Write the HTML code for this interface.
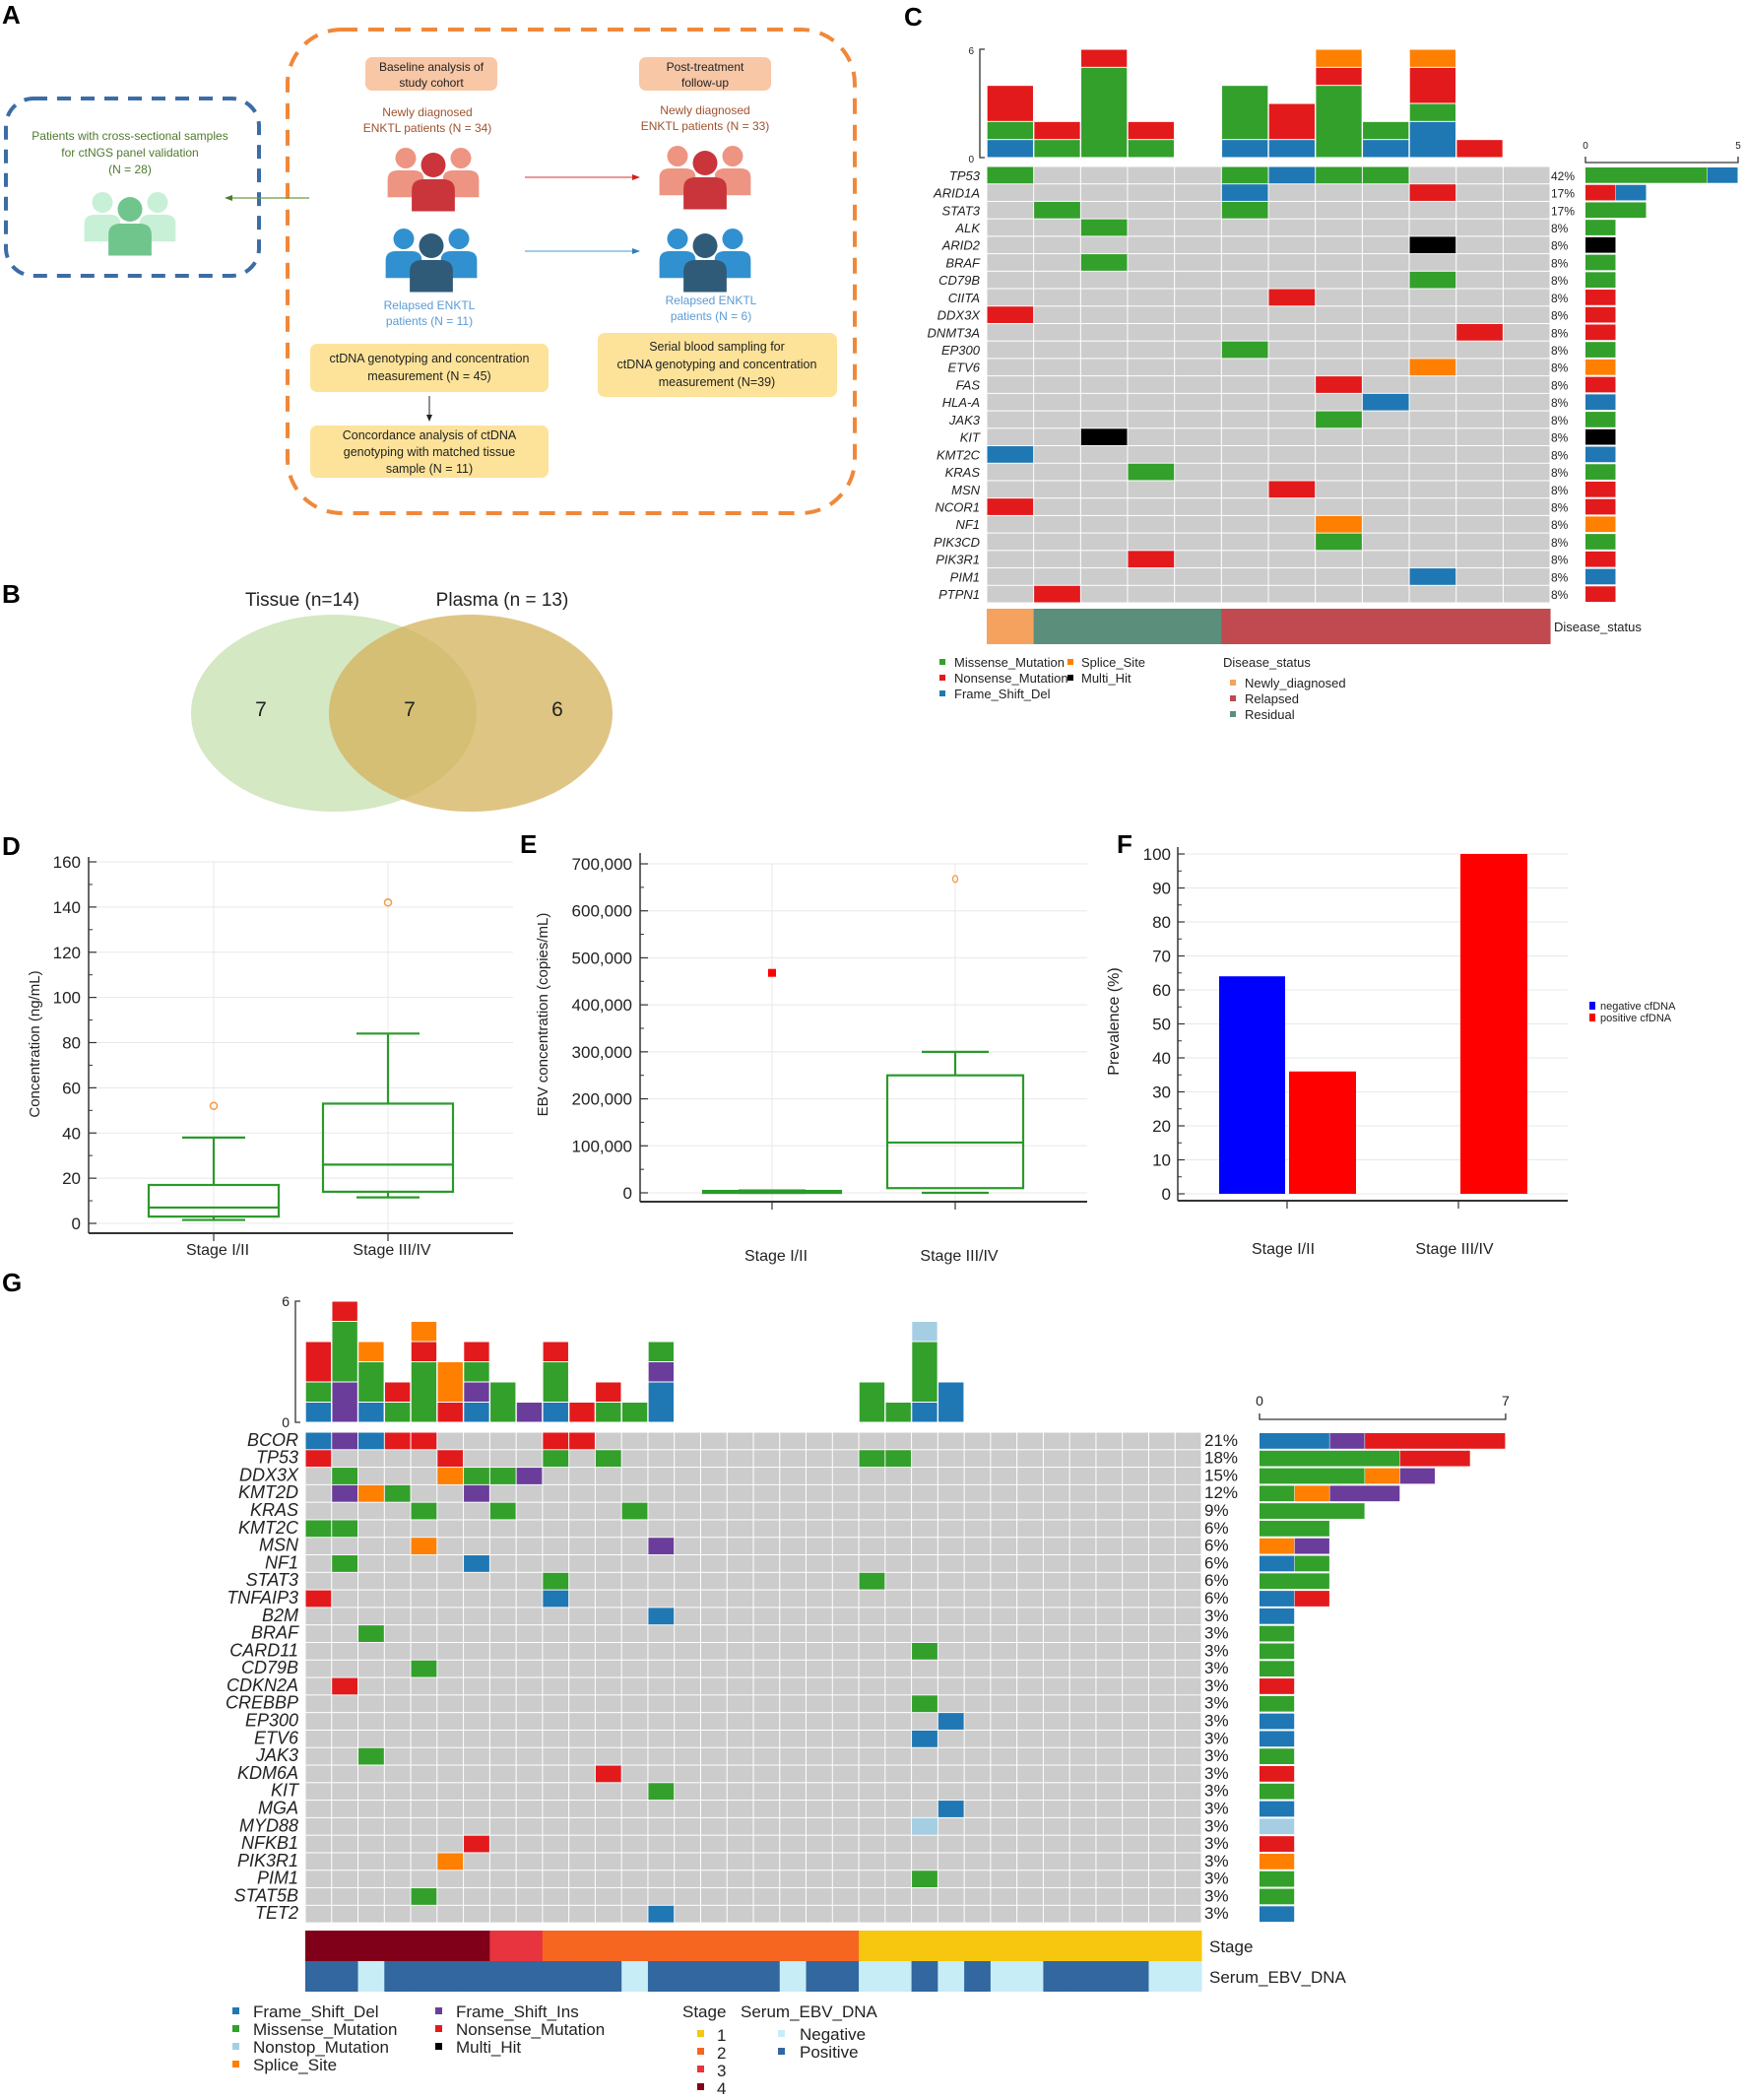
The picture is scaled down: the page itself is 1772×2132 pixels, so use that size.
<!DOCTYPE html>
<html><head><meta charset="utf-8">
<style>
html,body{margin:0;padding:0;background:#fff;}
svg{display:block;font-family:"Liberation Sans",Arial,sans-serif;}
</style></head>
<body>
<svg id="fig" width="1772" height="2132" viewBox="0 0 1772 2132" xmlns="http://www.w3.org/2000/svg">
</svg>
<script>
// ---------- DATA ----------
// Panel D
const dCats=['Stage I/II','Stage III/IV'];
const dQ1=[3,14];
const dMed=[7,26];
const dQ3=[17,53];
const dLo=[1.5,11.5];
const dHi=[38,84];
const dOut=[52,142];
const dTicks=[0,20,40,60,80,100,120,140,160];
// Panel E
const eCats=['Stage I/II','Stage III/IV'];
const eQ1=[0,10000];
const eMed=[2000,107000];
const eQ3=[4000,250000];
const eLo=[0,0];
const eHi=[5000,300000];
const eOut=[null,668000];
const eFar=[468000,null];
const eTicks=[0,100000,200000,300000,400000,500000,600000,700000];
const eTickLabels=['0','100,000','200,000','300,000','400,000','500,000','600,000','700,000'];
// Panel F
const fCats=['Stage I/II','Stage III/IV'];
const fNeg=[64,0];
const fPos=[36,100];
const fTicks=[0,10,20,30,40,50,60,70,80,90,100];
// Panel C oncoplot
const cGenes=['TP53','ARID1A','STAT3','ALK','ARID2','BRAF','CD79B','CIITA','DDX3X','DNMT3A','EP300','ETV6','FAS','HLA-A','JAK3','KIT','KMT2C','KRAS','MSN','NCOR1','NF1','PIK3CD','PIK3R1','PIM1','PTPN1'];
const cHits=['0M 5M 6F 7M 8M','5F 9N','1M 5M','2M','9X','2M','9M','6N','0N','10N','5M','9S','7N','8F','7M','2X','0F','3M','6N','0N','7S','7M','3N','9F','1N'];
const cPct=['42%','17%','17%','8%','8%','8%','8%','8%','8%','8%','8%','8%','8%','8%','8%','8%','8%','8%','8%','8%','8%','8%','8%','8%','8%'];
const cTop=['F1 M1 N2','M1 N1','M5 N1','M1 N1','','F1 M3','F1 N2','M4 N1 S1','F1 M1','F2 M1 N2 S1','N1',''];
const cStatus=['Newly_diagnosed','Residual','Residual','Residual','Residual','Relapsed','Relapsed','Relapsed','Relapsed','Relapsed','Relapsed','Relapsed'];
// Panel G oncoplot
const gGenes=['BCOR','TP53','DDX3X','KMT2D','KRAS','KMT2C','MSN','NF1','STAT3','TNFAIP3','B2M','BRAF','CARD11','CD79B','CDKN2A','CREBBP','EP300','ETV6','JAK3','KDM6A','KIT','MGA','MYD88','NFKB1','PIK3R1','PIM1','STAT5B','TET2'];
const gHits=['0F 1I 2F 3N 4N 9N 10N','0N 5N 9M 11M 21M 22M','1M 5S 6M 7M 8I','1I 2S 3M 6I','4M 7M 12M','0M 1M','4S 13I','1M 6F','9M 21M','0N 9F','13F','2M','23M','4M','1N','23M','24F','23F','2M','11N','13M','24F','23O','6N','5S','23M','4M','13F'];
const gStage=[4,4,4,4,4,4,4,3,3,2,2,2,2,2,2,2,2,2,2,2,2,1,1,1,1,1,1,1,1,1,1,1,1,1];
const gEbv=[1,1,0,1,1,1,1,1,1,1,1,1,0,1,1,1,1,1,0,1,1,0,0,1,0,1,0,0,1,1,1,1,0,0];
const gN=34;

// ---------- HELPERS ----------
const NS='http://www.w3.org/2000/svg';
const svg=document.getElementById('fig');
function mk(tag,attrs,parent){const e=document.createElementNS(NS,tag);for(const k in attrs)e.setAttribute(k,attrs[k]);(parent||svg).appendChild(e);return e;}
function txt(s,x,y,size,anchor,extra,parent){const e=mk('text',Object.assign({x:x,y:y,'font-size':size,'text-anchor':anchor||'start',fill:'#222'},extra||{}),parent);e.textContent=s;return e;}
const COL={F:'#1f78b4',I:'#6a3d9a',M:'#33a02c',N:'#e31a1c',S:'#ff7f00',O:'#a6cee3',X:'#000000'};
const TNAME={F:'frame-shift-del',I:'frame-shift-ins',M:'missense',N:'nonsense',S:'splice-site',O:'nonstop',X:'multi-hit'};
function parseHits(s){return s.trim()?s.trim().split(/\s+/).map(t=>[parseInt(t),t.slice(-1)]):[];}
function parseTop(s){return s.trim()?s.trim().split(/\s+/).map(t=>[t[0],parseInt(t.slice(1))]):[];}

// ---------- PANEL LETTERS ----------
[['A',2,24],['B',2,612],['C',918,26],['D',2,868],['E',528,866],['F',1134,866],['G',2,1311]].forEach(p=>{
  const t=txt(p[0],p[1],p[2],26,'start',{'font-weight':'bold',fill:'#000'});
  
  
});

// ---------- PANEL A ----------
const gA=mk('g',{});


let e;
e=mk('rect',{x:292,y:30,width:576,height:491,rx:55,fill:'none',stroke:'#f0883a','stroke-width':4,'stroke-dasharray':'16 11'},gA);

e=mk('rect',{x:6,y:100,width:257,height:180,rx:28,fill:'none',stroke:'#3c6ca6','stroke-width':4,'stroke-dasharray':'14 10'},gA);

function person(x,y,r,col,parent){
  mk('circle',{cx:x,cy:y+r,r:r,fill:col},parent);
  const w=r*1.75,top=y+2*r+2,h=r*2.6;
  mk('path',{d:`M${x-w} ${top+h} L${x-w} ${top+r*0.9} Q${x-w} ${top} ${x-w+r} ${top} L${x+w-r} ${top} Q${x+w} ${top} ${x+w} ${top+r*0.9} L${x+w} ${top+h} Z`,fill:col},parent);
}
function group(cx,ty,back,front,name){
  const g=mk('g',{},gA);
  
  
  person(cx-28,ty,10.5,back,g);person(cx+28,ty,10.5,back,g);
  mk('circle',{cx:cx,cy:ty+18,r:14,fill:'#fff'},g);
  person(cx,ty+5,12.5,front,g);
}
group(440,150,'#ee9482','#c9353a','newly-diagnosed-icon');
group(716,148,'#ee9482','#c9353a','followup-newly-icon');
group(438,232,'#3190d0','#2f5b79','relapsed-icon');
group(716,232,'#3190d0','#2f5b79','followup-relapsed-icon');
group(132,195,'#c8f0d6','#70c58d','validation-icon');
function box(x,y,w,h,fill,lines,cx,y0,dy,size,color,name){
  const b=mk('rect',{x:x,y:y,width:w,height:h,rx:7,fill:fill},gA);
  
  lines.forEach((l,i)=>{txt(l,cx,y0+i*dy,size,'middle',{fill:color},gA);});
}
box(371,58,134,34,'#f8c7a6',['Baseline analysis of','study cohort'],438,72,16,12,'#222','baseline-header');
box(649,58,134,34,'#f8c7a6',['Post-treatment','follow-up'],716,72,16,12,'#222','followup-header');
box(315,349,242,49,'#fde399',['ctDNA genotyping and concentration','measurement (N = 45)'],436,368,18,12.5,'#222','genotyping-box');
box(315,432,242,53,'#fde399',['Concordance analysis of ctDNA','genotyping with matched tissue','sample (N = 11)'],436,446,17,12.5,'#222','concordance-box');
box(607,338,243,65,'#fde399',['Serial blood sampling for','ctDNA genotyping and concentration','measurement  (N=39)'],728,356,18,12.5,'#222','serial-sampling-box');
[['Newly diagnosed',434,118],['ENKTL patients (N = 34)',434,134],['Newly diagnosed',716,116],['ENKTL patients (N = 33)',716,132]].forEach(t=>txt(t[0],t[1],t[2],12,'middle',{fill:'#a0522d'},gA));
[['Relapsed ENKTL',436,314],['patients (N = 11)',436,330],['Relapsed ENKTL',722,309],['patients (N = 6)',722,325]].forEach(t=>txt(t[0],t[1],t[2],12,'middle',{fill:'#5b9bd5'},gA));
[['Patients with cross-sectional samples',132,142],['for ctNGS panel validation',132,159],['(N = 28)',132,176]].forEach(t=>txt(t[0],t[1],t[2],12,'middle',{fill:'#4f7a2e'},gA));
mk('line',{x1:533,y1:180,x2:644,y2:180,stroke:'#e05a5a','stroke-width':1.2},gA);
mk('path',{d:'M650 180 L642 177 L642 183 Z',fill:'#d02020'},gA);
mk('line',{x1:533,y1:255,x2:644,y2:255,stroke:'#6aaee0','stroke-width':1.2},gA);
mk('path',{d:'M650 255 L642 252 L642 258 Z',fill:'#2f7fc0'},gA);
mk('line',{x1:314,y1:201,x2:234,y2:201,stroke:'#6b9a4a','stroke-width':1.2},gA);
mk('path',{d:'M228 201 L236 198 L236 204 Z',fill:'#4f7a2e'},gA);
mk('line',{x1:436,y1:402,x2:436,y2:423,stroke:'#222','stroke-width':1},gA);
mk('path',{d:'M436 428 L433 421 L439 421 Z',fill:'#222'},gA);

// ---------- PANEL B (Venn) ----------
const gB=mk('g',{});


e=mk('ellipse',{cx:339,cy:724,rx:145,ry:100,fill:'#c9e2b4','fill-opacity':0.8},gB);

e=mk('ellipse',{cx:478,cy:724,rx:144,ry:100,fill:'#d4b25a','fill-opacity':0.75},gB);

txt('Tissue (n=14)',307,615,19,'middle',{},gB);
txt('Plasma (n = 13)',510,615,19,'middle',{},gB);
txt('7',265,727,21,'middle',{},gB);
txt('7',416,727,21,'middle',{},gB);
txt('6',566,727,21,'middle',{},gB);

// ---------- PANEL D (box plot) ----------
const gD=mk('g',{});


const dX0=90,dX1=521,dYb=1242,dYt=875;
const yD=v=>dYb-v*(dYb-dYt)/160;
const xD=i=>217+i*177;
dTicks.forEach(t=>{
  mk('line',{x1:dX0,y1:yD(t),x2:dX1,y2:yD(t),stroke:'#e8e8e8','stroke-width':1},gD);
  mk('line',{x1:dX0,y1:yD(t),x2:dX0+8,y2:yD(t),stroke:'#333','stroke-width':1.2},gD);
  const l=txt(String(t),dX0-8,yD(t)+6,17,'end',{},gD);
  
});
for(let t=10;t<160;t+=20)mk('line',{x1:dX0,y1:yD(t),x2:dX0+4,y2:yD(t),stroke:'#333'},gD);
dCats.forEach((c,i)=>{
  mk('line',{x1:xD(i),y1:dYt,x2:xD(i),y2:1252,stroke:'#e8e8e8'},gD);
  mk('line',{x1:xD(i),y1:1252,x2:xD(i),y2:1260,stroke:'#333','stroke-width':1.2},gD);
  txt(c,xD(i)+4,1274,16,'middle',{},gD);
  const g=mk('g',{stroke:'#2a9a2a','stroke-width':2.2,fill:'none'},gD);
  
  mk('rect',{x:xD(i)-66,y:yD(dQ3[i]),width:132,height:yD(dQ1[i])-yD(dQ3[i])},g);
  mk('line',{x1:xD(i)-66,y1:yD(dMed[i]),x2:xD(i)+66,y2:yD(dMed[i])},g);
  mk('line',{x1:xD(i),y1:yD(dQ3[i]),x2:xD(i),y2:yD(dHi[i])},g);
  mk('line',{x1:xD(i),y1:yD(dQ1[i]),x2:xD(i),y2:yD(dLo[i])},g);
  mk('line',{x1:xD(i)-32,y1:yD(dHi[i]),x2:xD(i)+32,y2:yD(dHi[i])},g);
  mk('line',{x1:xD(i)-32,y1:yD(dLo[i]),x2:xD(i)+32,y2:yD(dLo[i])},g);
  const o=mk('circle',{cx:xD(i),cy:yD(dOut[i]),r:3.5,fill:'none',stroke:'#f39a4a','stroke-width':1.5},gD);
  
});
mk('line',{x1:dX0,y1:870,x2:dX0,y2:1252,stroke:'#333','stroke-width':1.5},gD);
mk('line',{x1:dX0,y1:1252,x2:dX1,y2:1252,stroke:'#333','stroke-width':2},gD);
e=txt('Concentration (ng/mL)',0,0,15,'middle',{transform:'translate(40 1060) rotate(-90)'},gD);


// ---------- PANEL E ----------
const gE=mk('g',{});


const eX0=650,eX1=1104,eYb=1211,eYt=877;
const yE=v=>eYb-v*(eYb-eYt)/700000;
const xE=i=>784+i*186;
eTicks.forEach((t,k)=>{
  mk('line',{x1:eX0,y1:yE(t),x2:eX1,y2:yE(t),stroke:'#e8e8e8'},gE);
  mk('line',{x1:eX0,y1:yE(t),x2:eX0+8,y2:yE(t),stroke:'#333','stroke-width':1.2},gE);
  const l=txt(eTickLabels[k],eX0-8,yE(t)+6,17,'end',{},gE);
  
});
for(let t=50000;t<700000;t+=100000)mk('line',{x1:eX0,y1:yE(t),x2:eX0+4,y2:yE(t),stroke:'#333'},gE);
eCats.forEach((c,i)=>{
  mk('line',{x1:xE(i),y1:eYt,x2:xE(i),y2:1220,stroke:'#e8e8e8'},gE);
  mk('line',{x1:xE(i),y1:1220,x2:xE(i),y2:1228,stroke:'#333','stroke-width':1.2},gE);
  txt(c,xE(i)+4,1280,16,'middle',{},gE);
  const g=mk('g',{stroke:'#2a9a2a','stroke-width':2.2,fill:'none'},gE);
  
  const hw=i===0?70:69;
  mk('rect',{x:xE(i)-hw,y:yE(eQ3[i]),width:2*hw,height:Math.max(2,yE(eQ1[i])-yE(eQ3[i]))},g);
  mk('line',{x1:xE(i)-hw,y1:yE(eMed[i]),x2:xE(i)+hw,y2:yE(eMed[i])},g);
  mk('line',{x1:xE(i),y1:yE(eQ3[i]),x2:xE(i),y2:yE(eHi[i])},g);
  mk('line',{x1:xE(i)-34,y1:yE(eHi[i]),x2:xE(i)+34,y2:yE(eHi[i])},g);
  mk('line',{x1:xE(i)-34,y1:yE(eLo[i]),x2:xE(i)+34,y2:yE(eLo[i])},g);
  if(eOut[i]!==null){const o=mk('ellipse',{cx:xE(i),cy:yE(eOut[i]),rx:2.5,ry:3.5,fill:'none',stroke:'#f39a4a','stroke-width':1.3},gE);}
  if(eFar[i]!==null){const o=mk('rect',{x:xE(i)-4,y:yE(eFar[i])-4,width:8,height:8,fill:'#ff0000'},gE);}
});
mk('rect',{x:xE(0)-70,y:yE(4000),width:140,height:yE(0)-yE(4000),fill:'#2a9a2a'},gE);
mk('line',{x1:eX0,y1:866,x2:eX0,y2:1220,stroke:'#333','stroke-width':1.5},gE);
mk('line',{x1:eX0,y1:1220,x2:eX1,y2:1220,stroke:'#333','stroke-width':2},gE);
e=txt('EBV concentration (copies/mL)',0,0,15,'middle',{transform:'translate(556 1030) rotate(-90)'},gE);


// ---------- PANEL F ----------
const gF=mk('g',{});


const fX0=1196,fX1=1592,fYb=1212,fYt=867;
const yF=v=>fYb-v*(fYb-fYt)/100;
const xF=i=>1307+i*174;
fTicks.forEach(t=>{
  mk('line',{x1:fX0,y1:yF(t),x2:fX1,y2:yF(t),stroke:'#e8e8e8'},gF);
  mk('line',{x1:fX0,y1:yF(t),x2:fX0+7,y2:yF(t),stroke:'#333','stroke-width':1.2},gF);
  const l=txt(String(t),fX0-7,yF(t)+6,17,'end',{},gF);
  
});
for(let t=5;t<100;t+=10)mk('line',{x1:fX0,y1:yF(t),x2:fX0+4,y2:yF(t),stroke:'#333'},gF);
fCats.forEach((c,i)=>{
  if(fNeg[i]>0){const b=mk('rect',{x:xF(i)-69,y:yF(fNeg[i]),width:67,height:yF(0)-yF(fNeg[i]),fill:'#0000ff'},gF);}
  const b=mk('rect',{x:xF(i)+2,y:yF(fPos[i]),width:68,height:yF(0)-yF(fPos[i]),fill:'#ff0000'},gF);
  
  mk('line',{x1:xF(i),y1:1219,x2:xF(i),y2:1227,stroke:'#333','stroke-width':1.2},gF);
  txt(c,xF(i)-4,1273,16,'middle',{},gF);
});
mk('line',{x1:fX0,y1:860,x2:fX0,y2:1219,stroke:'#333','stroke-width':1.5},gF);
mk('line',{x1:fX0,y1:1219,x2:fX1,y2:1219,stroke:'#333','stroke-width':2},gF);
e=txt('Prevalence (%)',0,0,16,'middle',{transform:'translate(1136 1037) rotate(-90)'},gF);

[['#0000ff','negative cfDNA',1025],['#ff0000','positive cfDNA',1037]].forEach(l=>{
  const s=mk('rect',{x:1614,y:l[2]-8,width:6,height:8,fill:l[0]},gF);
  
  txt(l[1],1625,l[2],11,'start',{},gF);
});

// ---------- ONCOPLOT BUILDER ----------
function oncoplot(cfg){
  const g=mk('g',{});
  
  
  const n=cfg.n,cw=cfg.cw,rh=cfg.rh;
  // background grid
  for(let r=0;r<cfg.genes.length;r++)for(let c=0;c<n;c++){
    mk('rect',{x:cfg.x0+c*cw+0.5,y:cfg.y0+r*rh+0.5,width:cw-1,height:rh-1,fill:'#cccccc'},g);
  }
  const order=cfg.order;
  cfg.genes.forEach((gene,r)=>{
    const hits=parseHits(cfg.hits[r]);
    hits.forEach(h=>{
      const cell=mk('rect',{x:cfg.x0+h[0]*cw+0.5,y:cfg.y0+r*rh+0.5,width:cw-1,height:rh-1,fill:COL[h[1]]},g);
      
      
    });
    const lab=txt(gene,cfg.x0-7,cfg.y0+r*rh+rh*0.78,cfg.fs,'end',{'font-style':'italic'},g);
    
    const pct=cfg.pct?cfg.pct[r]:Math.round(100*hits.length/n)+'%';
    txt(pct,cfg.pctX,cfg.y0+r*rh+rh*0.78,cfg.fs-1,'start',{},g);
    // right bar
    let x=cfg.rx0;
    const counts={};hits.forEach(h=>counts[h[1]]=(counts[h[1]]||0)+1);
    cfg.rorder.forEach(t=>{if(counts[t]){
      const b=mk('rect',{x:x,y:cfg.y0+r*rh+1,width:counts[t]*cfg.runit-0.5,height:rh-2,fill:COL[t]},g);
      
      x+=counts[t]*cfg.runit;}});
  });
  // top bars
  for(let c=0;c<n;c++){
    let stack=cfg.top?parseTop(cfg.top[c]):null;
    if(!stack){
      const counts={};cfg.genes.forEach((gene,r)=>parseHits(cfg.hits[r]).forEach(h=>{if(h[0]===c)counts[h[1]]=(counts[h[1]]||0)+1;}));
      stack=order.filter(t=>counts[t]).map(t=>[t,counts[t]]);
    }
    let base=0;
    stack.forEach(s=>{
      const y1=cfg.tyb-(base+s[1])*cfg.tunit,y0=cfg.tyb-base*cfg.tunit;
      const b=mk('rect',{x:cfg.x0+c*cw+0.7,y:y1+0.5,width:cw-1.4,height:y0-y1-1,fill:COL[s[0]]},g);
      
      base+=s[1];
    });
  }
  // top axis
  mk('path',{d:`M${cfg.tax+5} ${cfg.tyb-6*cfg.tunit} L${cfg.tax} ${cfg.tyb-6*cfg.tunit} L${cfg.tax} ${cfg.tyb} L${cfg.tax+5} ${cfg.tyb}`,fill:'none',stroke:'#333','stroke-width':1.3},g);
  txt('6',cfg.tax-6,cfg.tyb-6*cfg.tunit+5,cfg.afs,'end',{},g);
  txt('0',cfg.tax-6,cfg.tyb+5,cfg.afs,'end',{},g);
  // right axis
  mk('path',{d:`M${cfg.rx0} ${cfg.ray-6} L${cfg.rx0} ${cfg.ray} L${cfg.rx0+cfg.rmax*cfg.runit} ${cfg.ray} L${cfg.rx0+cfg.rmax*cfg.runit} ${cfg.ray-6}`,fill:'none',stroke:'#333','stroke-width':1.3},g);
  txt('0',cfg.rx0,cfg.ray-14,cfg.afs,'middle',{},g);
  txt(String(cfg.rmax),cfg.rx0+cfg.rmax*cfg.runit,cfg.ray-14,cfg.afs,'middle',{},g);
  return g;
}

// ---------- PANEL C ----------
const gC=oncoplot({name:'panel-c-oncoplot',genes:cGenes,hits:cHits,pct:cPct,top:cTop,n:12,x0:1002,cw:47.67,y0:169,rh:17.72,fs:13,pctX:1575,
  rx0:1610,runit:31,rmax:5,ray:165,tyb:160,tunit:18.33,tax:995,afs:10,order:['F','M','N','S'],rorder:['M','N','S','X','F']});
const cStatusCol={Newly_diagnosed:'#f4a25d',Residual:'#5b8e7b',Relapsed:'#c04a50'};
cStatus.forEach((s,c)=>{
  const r=mk('rect',{x:1002+c*47.67,y:618,width:48.2,height:36,fill:cStatusCol[s]},gC);
  
});
txt('Disease_status',1578,641,13,'start',{},gC);
[['M','Missense_Mutation',957,969,677],['N','Nonsense_Mutation',957,969,693],['F','Frame_Shift_Del',957,969,709],['S','Splice_Site',1087,1098,677],['X','Multi_Hit',1087,1098,693]].forEach(l=>{
  const s=mk('rect',{x:l[2]-3,y:l[4]-8,width:6,height:6,fill:COL[l[0]]},gC);
  
  txt(l[1],l[3],l[4],13,'start',{},gC);
});
txt('Disease_status',1242,677,13,'start',{},gC);
[['Newly_diagnosed',698],['Relapsed',714],['Residual',730]].forEach(l=>{
  const s=mk('rect',{x:1249,y:l[1]-8,width:6,height:6,fill:cStatusCol[l[0]]},gC);
  
  txt(l[0],1264,l[1],13,'start',{},gC);
});

// ---------- PANEL G ----------
const GCW=(1220-310)/34;
const gG=oncoplot({name:'panel-g-oncoplot',genes:gGenes,hits:gHits,pct:null,top:null,n:gN,x0:310,cw:GCW,y0:1454,rh:17.79,fs:18,pctX:1223,
  rx0:1279,runit:35.7,rmax:7,ray:1441,tyb:1444,tunit:20.5,tax:300,afs:14,order:['F','I','M','N','S','O'],rorder:['F','M','S','I','N','O']});
const stageCol={1:'#f7c60f',2:'#f76621',3:'#e8343f',4:'#800019'};
gStage.forEach((s,c)=>{
  const r=mk('rect',{x:310+c*GCW,y:1960,width:GCW+0.5,height:31,fill:stageCol[s]},gG);
  
});
gEbv.forEach((v,c)=>{
  const r=mk('rect',{x:310+c*GCW,y:1991,width:GCW+0.5,height:31,fill:v?'#33679f':'#c7edf6'},gG);
  
});
txt('Stage',1228,1982,17,'start',{},gG);
txt('Serum_EBV_DNA',1228,2013,17,'start',{},gG);
[['F','Frame_Shift_Del',239,257,2048],['M','Missense_Mutation',239,257,2066],['O','Nonstop_Mutation',239,257,2084],['S','Splice_Site',239,257,2102],
 ['I','Frame_Shift_Ins',445,463,2048],['N','Nonsense_Mutation',445,463,2066],['X','Multi_Hit',445,463,2084]].forEach(l=>{
  const s=mk('rect',{x:l[2]-3,y:l[4]-10,width:7,height:7,fill:COL[l[0]]},gG);
  
  txt(l[1],l[3],l[4],17,'start',{},gG);
});
txt('Stage',693,2048,17,'start',{},gG);
txt('Serum_EBV_DNA',752,2048,17,'start',{},gG);
[[1,2071],[2,2089],[3,2107],[4,2125]].forEach(l=>{
  const s=mk('rect',{x:708,y:l[1]-10,width:7,height:7,fill:stageCol[l[0]]},gG);
  
  txt(String(l[0]),728,l[1]+1,17,'start',{},gG);
});
[['#c7edf6','Negative',2071],['#33679f','Positive',2089]].forEach(l=>{
  const s=mk('rect',{x:790,y:l[2]-10,width:7,height:7,fill:l[0]},gG);
  
  txt(l[1],812,l[2],17,'start',{},gG);
});
</script>
</body></html>
